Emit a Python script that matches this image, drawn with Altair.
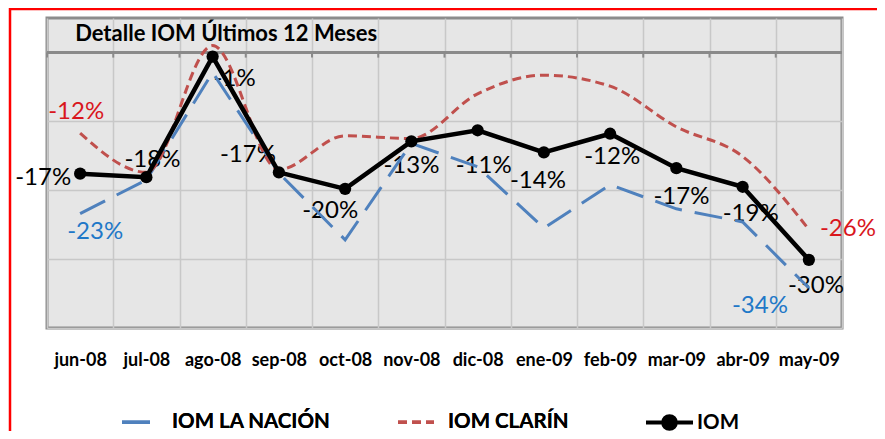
import altair as alt
import pandas as pd

MONTHS = ["jun-08", "jul-08", "ago-08", "sep-08", "oct-08", "nov-08",
          "dic-08", "ene-09", "feb-09", "mar-09", "abr-09", "may-09"]
IOM = [-17.6, -18.1, -0.6, -17.4, -19.8, -12.9, -11.3, -14.5, -11.8, -16.8, -19.5, -30.1]
CLARIN = [-11.7, -17.4, 1.0, -17.0, -12.1, -12.5, -6.0, -3.3, -4.9, -10.8, -15.1, -25.7]
NACION = [-23.4, -18.5, -2.9, -17.5, -27.2, -13.2, -16.6, -25.5, -19.2, -22.7, -24.6, -34.2]

S_NACION = "IOM LA NACIÓN"
S_CLARIN = "IOM CLARÍN"
S_IOM = "IOM"
TITLE = "Detalle IOM Últimos 12 Meses"
Y_TOP = 5

# data labels: (month, series, text)
LABEL_MONTHS = ["jun-08", "jul-08", "ago-08", "sep-08", "oct-08", "nov-08", "dic-08",
                "ene-09", "feb-09", "mar-09", "abr-09", "may-09",
                "jun-08", "may-09", "jun-08", "may-09"]
LABEL_SERIES = [S_IOM] * 12 + [S_CLARIN, S_CLARIN, S_NACION, S_NACION]
LABEL_TEXTS = ["-17%", "-18%", "-1%", "-17%", "-20%", "-13%", "-11%", "-14%", "-12%",
               "-17%", "-19%", "-30%", "-12%", "-26%", "-23%", "-34%"]

# styling for labels (offsets in px, alignment)
LABEL_STYLE = [
    (-9, 4, "right"), (6, -17, "center"), (22, 22, "center"), (-31, -17, "center"),
    (-15, 22, "center"), (0, 25, "center"), (6, 36, "center"), (-6, 29, "center"),
    (2, 23, "center"), (5, 29, "center"), (8, 27, "center"), (7, 26, "center"),
    (-4, -21, "center"), (39, 0, "center"), (15, 18, "center"), (-49, 18, "center"),
]

COL_NACION = "#4f81bd"
COL_CLARIN = "#c0504d"
LABEL_COLORS = {S_IOM: "#000000", S_CLARIN: "#d9161d", S_NACION: "#1f78c8"}

series_vals = {S_NACION: NACION, S_CLARIN: CLARIN, S_IOM: IOM}
rows = []
for s, vals in series_vals.items():
    for m, v in zip(MONTHS, vals):
        rows.append({"month": m, "serie": s, "value": v})
df = pd.DataFrame(rows)
df_nc = df[df.serie != S_IOM]
df_iom = df[df.serie == S_IOM]

FONT = "Lato"

x_bottom = alt.X(
    "month:N", sort=MONTHS,
    scale=alt.Scale(type="band", domain=MONTHS, paddingInner=0, paddingOuter=0),
    axis=alt.Axis(orient="bottom", title=None, labelAngle=0, labelFont=FONT,
                  labelFontWeight="bold", labelFontSize=18, labelColor="#000000",
                  labelPadding=23, ticks=False, domain=False, grid=True,
                  gridColor="#c8c8c8", gridWidth=1.5, tickBand="extent"),
)
x_plain = alt.X("month:N", sort=MONTHS, axis=None)
y_enc = alt.Y(
    "value:Q",
    scale=alt.Scale(domain=[-40, Y_TOP], nice=False, zero=False),
    axis=alt.Axis(values=list(range(-40, 6, 5)), labels=False, ticks=False,
                  domain=False, grid=True, gridColor="#c8c8c8", gridWidth=1.5, title=None),
)
y_plain = alt.Y("value:Q")

base_grid = alt.Chart(df_iom).mark_point(opacity=0).encode(x=x_bottom, y=y_enc)

# horizontal category axis line at 0 with small tick marks at the category edges
zero_rule = alt.Chart(alt.Data(values=[{"v": 0}])).mark_rule(
    color="#8a8a8a", strokeWidth=3).encode(y=alt.Y("v:Q"))
zero_ticks = alt.Chart(df_iom).mark_rule(color="#8a8a8a", strokeWidth=2).encode(
    x=alt.X("month:N", sort=MONTHS, bandPosition=0, axis=None),
    y=alt.datum(0),
    y2=alt.datum(-0.75),
)

# chart title, drawn inside the plot at its top-left corner
title_mark = alt.Chart(alt.Data(values=[{"month": MONTHS[0], "value": Y_TOP, "t": TITLE}])).mark_text(
    font=FONT, fontSize=22, fontWeight="bold", color="#000000", align="left",
    baseline="alphabetic", dx=-5, dy=23,
).encode(x=x_plain, y=y_plain, text="t:N")

text_layers = []
for m, s, t, (dx, dy, al) in zip(LABEL_MONTHS, LABEL_SERIES, LABEL_TEXTS, LABEL_STYLE):
    v = series_vals[s][MONTHS.index(m)]
    text_layers.append(
        alt.Chart(alt.Data(values=[{"month": m, "value": v, "label": t}]))
        .mark_text(font=FONT, fontSize=24, color=LABEL_COLORS[s], dx=dx, dy=dy,
                   align=al, baseline="middle")
        .encode(x=x_plain, y=y_plain, text="label:N")
    )

legend_nc = alt.Legend(
    orient="none", legendX=73, legendY=384, direction="horizontal", title=None,
    labelFont=FONT, labelFontWeight="bold", labelFontSize=20.5, labelColor="#000000",
    labelLimit=300, symbolType="stroke", symbolSize=1296, symbolStrokeWidth=3.5,
    columnPadding=60, labelOffset=12,
)
lines_nc = alt.Chart(df_nc).mark_line(strokeWidth=3).encode(
    x=x_plain,
    y=y_plain,
    color=alt.Color("serie:N", scale=alt.Scale(domain=[S_NACION, S_CLARIN],
                                               range=[COL_NACION, COL_CLARIN]),
                    legend=legend_nc),
    strokeDash=alt.StrokeDash("serie:N", scale=alt.Scale(domain=[S_NACION, S_CLARIN],
                                                         range=[[28, 13], [9, 5]]),
                              legend=legend_nc),
)
line_nacion = lines_nc.transform_filter(alt.datum.serie == S_NACION)
line_clarin = lines_nc.transform_filter(alt.datum.serie == S_CLARIN).mark_line(
    strokeWidth=3, interpolate="monotone")

iom_line = alt.Chart(df_iom).mark_line(color="#000000", strokeWidth=4.5).encode(
    x=x_plain, y=y_plain)
iom_pts = alt.Chart(df_iom).mark_point(filled=True, size=150, opacity=1).encode(
    x=x_plain, y=y_plain,
    color=alt.Color("serie:N", scale=alt.Scale(domain=[S_IOM], range=["#000000"]),
                    legend=alt.Legend(
                        orient="none", legendX=597, legendY=379, title=None,
                        labelFont=FONT, labelFontWeight="bold", labelFontSize=20.5,
                        labelColor="#000000",
                        symbolType="M-1,0L1,0M-0.27,0A0.27,0.27,0,1,1,0.27,0A0.27,0.27,0,1,1,-0.27,0Z",
                        symbolSize=2209, symbolStrokeWidth=4, symbolStrokeColor="#000000",
                        symbolFillColor="#000000", labelOffset=2)),
)

border = alt.Chart(alt.Data(values=[{}])).mark_rect(
    fillOpacity=0, stroke="#ff0000", strokeWidth=2.5
).encode(x=alt.value(-37), y=alt.value(-9), x2=alt.value(950), y2=alt.value(600))

chart = alt.layer(
    base_grid, zero_rule, zero_ticks, title_mark, *text_layers, line_nacion, line_clarin,
    iom_line, iom_pts, border
).resolve_axis(x="independent").resolve_scale(color="independent", strokeDash="independent").properties(
    width=795, height=310,
    background="#ffffff",
    autosize=alt.AutoSizeParams(type="none"),
    padding={"left": 39, "top": 10, "right": 35, "bottom": 103},
).configure_view(stroke="#8c8c8c", strokeWidth=3, fill="#e6e6e6")

chart.save("out.html", embed_options={"renderer": "svg", "actions": False})
